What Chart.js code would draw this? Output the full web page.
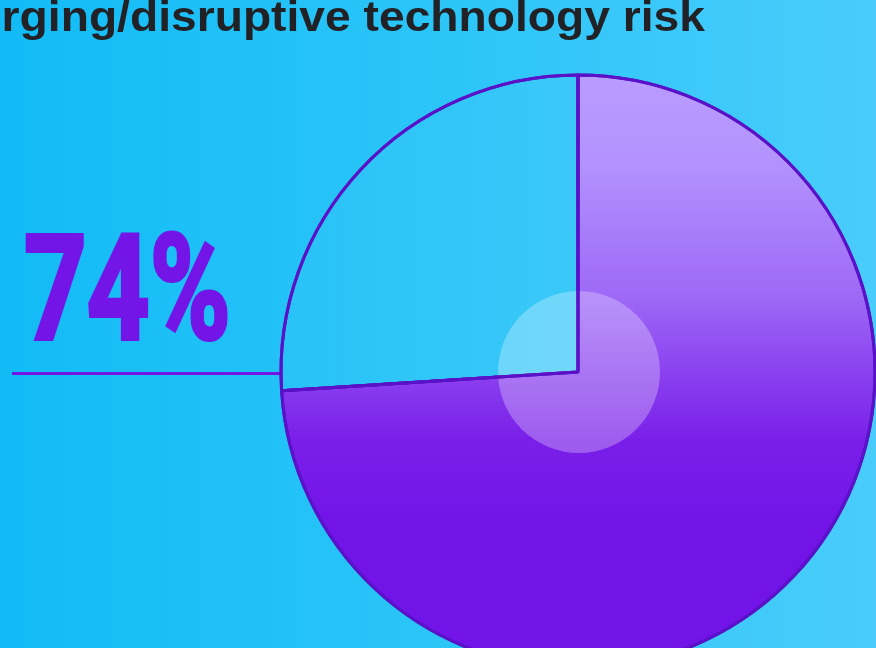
<!DOCTYPE html>
<html>
<head>
<meta charset="utf-8">
<script src="https://cdn.jsdelivr.net/npm/chart.js@4.4.1/dist/chart.umd.min.js"></script>
<style>
  html, body { margin: 0; padding: 0; overflow: hidden; background: #2ac4f8; }
  canvas { display: block; }
</style>
</head>
<body>
<canvas id="riskChart" width="876" height="648"></canvas>
<script>
var titleText = 'Emerging/disruptive technology risk';
var labels = ['Identified as a risk', 'Not identified'];
var values = [74, 26];

// backdrop, title, big percentage and the pointer line
var decorPlugin = {
  id: 'decor',
  beforeDraw: function (chart) {
    var c = chart.ctx;
    var w = chart.width, h = chart.height;
    var bg = c.createLinearGradient(0, 0, w, 0);
    bg.addColorStop(0, '#12bbf6');
    bg.addColorStop(0.5, '#2bc5f8');
    bg.addColorStop(1, '#49ccfa');
    c.save();
    c.fillStyle = bg;
    c.fillRect(0, 0, w, h);

    c.save();
    c.translate(705, 31);
    c.scale(1.1, 1);
    c.font = 'bold 42px "Liberation Sans", Arial, sans-serif';
    c.fillStyle = '#222226';
    c.textAlign = 'right';
    c.textBaseline = 'alphabetic';
    c.fillText(titleText, 0, 0);
    c.restore();

    c.save();
    c.translate(24, 339);
    c.scale(0.75, 1);
    c.font = 'bold 146px Roboto, sans-serif';
    c.fillStyle = '#7415e8';
    c.strokeStyle = '#7415e8';
    c.lineWidth = 4;
    c.lineJoin = 'miter';
    c.textAlign = 'left';
    c.fillText(values[0] + '%', 0, 0);
    c.strokeText(values[0] + '%', 0, 0);
    c.restore();

    c.strokeStyle = '#7415e8';
    c.lineWidth = 3;
    c.beginPath();
    c.moveTo(12, 373.5);
    c.lineTo(282, 373.5);
    c.stroke();
    c.restore();
  },
  afterDatasetsDraw: function (chart) {
    var c = chart.ctx;
    var arcs = chart.getDatasetMeta(0).data;
    var x = arcs[0].x, y = arcs[0].y;
    c.save();
    c.fillStyle = 'rgba(255,255,255,0.28)';
    c.beginPath();
    c.arc(x + 1, y, 81, 0, Math.PI * 2);
    c.fill();
    c.restore();
    // put the slice outlines back on top of the disc
    arcs.forEach(function (arc) {
      var o = arc.options;
      var fill = o.backgroundColor;
      o.backgroundColor = 'rgba(0,0,0,0)';
      arc.draw(c);
      o.backgroundColor = fill;
    });
  }
};

function sliceFill(context) {
  if (context.dataIndex !== 0) return 'rgba(255,255,255,0.03)';
  var c = context.chart.ctx;
  var g = c.createLinearGradient(0, 75, 0, 520);
  g.addColorStop(0, '#b99cff');
  g.addColorStop(0.2, '#b392fe');
  g.addColorStop(0.5, '#9d68f6');
  g.addColorStop(0.82, '#7a1fe9');
  g.addColorStop(1, '#7214e8');
  return g;
}

var ctx = document.getElementById('riskChart').getContext('2d');
var riskChart = new Chart(ctx, {
  type: 'pie',
  data: {
    labels: labels,
    datasets: [{
      data: values,
      backgroundColor: sliceFill,
      borderColor: '#5a12c8',
      borderWidth: 3
    }]
  },
  options: {
    responsive: false,
    animation: false,
    radius: 297,
    layout: { padding: { top: 96, bottom: 0, left: 280, right: 0 } },
    plugins: {
      legend: { display: false },
      tooltip: { enabled: false }
    }
  },
  plugins: [decorPlugin]
});
</script>
</body>
</html>
